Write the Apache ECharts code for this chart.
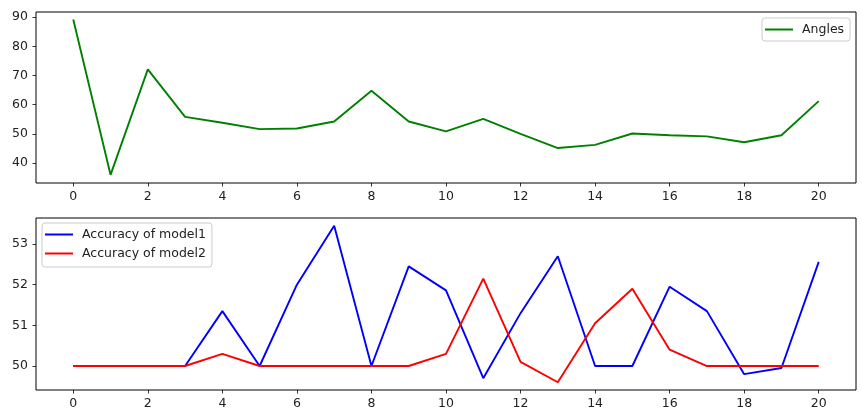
<!DOCTYPE html>
<html>
<head>
<meta charset="utf-8">
<title>Angles / Accuracy</title>
<script type="text/javascript" src="https://cdn.jsdelivr.net/npm/echarts@6/dist/echarts.min.js"></script>
<style type="text/css">
html, body {margin: 0; padding: 0; background: #fff;}
#main {width: 862px; height: 418px;}
</style>
</head>
<body>
<div id="main"></div>
<script type="text/javascript">
// data
var steps = [0, 1, 2, 3, 4, 5, 6, 7, 8, 9, 10, 11, 12, 13, 14, 15, 16, 17, 18, 19, 20];
var angles = [89.2, 35.9, 72.1, 55.8, 53.8, 51.6, 51.8, 54.2, 64.8, 54.2, 50.8, 55.1, 50.0, 45.1, 46.2, 50.1, 49.5, 49.1, 47.1, 49.5, 61.2];
var accModel1 = [50, 50, 50, 50, 51.35, 50, 52.0, 53.45, 50, 52.45, 51.86, 49.7, 51.3, 52.7, 50, 50, 51.95, 51.35, 49.8, 49.95, 52.56];
var accModel2 = [50, 50, 50, 50, 50.3, 50, 50, 50, 50, 50, 50.3, 52.15, 50.1, 49.6, 51.05, 51.9, 50.4, 50, 50, 50, 50];
var xTicks = [0, 2, 4, 6, 8, 10, 12, 14, 16, 18, 20];
var yTicksTop = [40, 50, 60, 70, 80, 90];
var yTicksBottom = [50, 51, 52, 53];

function pairs(ys) {
    return steps.map(function (x, i) { return [x, ys[i]]; });
}

var font = 'DejaVu Sans';
var tickStyle = {show: true, inside: false, length: 3.5, lineStyle: {color: '#000', width: 0.8}};
var labelStyle = {color: '#222', fontFamily: font, fontSize: 12.5};

function xAxisFor(gridIndex) {
    return {
        type: 'value', gridIndex: gridIndex, min: -1, max: 21,
        axisLine: {show: false, onZero: false},
        splitLine: {show: false},
        axisTick: Object.assign({customValues: xTicks}, tickStyle),
        axisLabel: Object.assign({customValues: xTicks, margin: 7}, labelStyle)
    };
}
function yAxisFor(gridIndex, min, max, ticks) {
    return {
        type: 'value', gridIndex: gridIndex, min: min, max: max,
        axisLine: {show: false, onZero: false},
        splitLine: {show: false},
        axisTick: Object.assign({customValues: ticks}, tickStyle),
        axisLabel: Object.assign({customValues: ticks, margin: 8}, labelStyle)
    };
}

var legendText = {color: '#222', fontFamily: font, fontSize: 12.5, lineHeight: 15, padding: [0, 0, 0, 4]};

var myChart = echarts.init(document.getElementById('main'));
var option = {
    animation: false,
    backgroundColor: '#fff',
    grid: [
        {left: 36, top: 12, width: 820, height: 171, show: true, borderColor: '#000', borderWidth: 1, backgroundColor: 'transparent'},
        {left: 36, top: 218, width: 820, height: 172, show: true, borderColor: '#000', borderWidth: 1, backgroundColor: 'transparent'}
    ],
    legend: [
        {
            data: ['Angles'], left: 762, top: 18, orient: 'vertical',
            icon: 'rect', itemWidth: 28, itemHeight: 2,
            padding: [4, 6, 4, 3],
            borderColor: '#ccc', borderWidth: 1, borderRadius: 3, backgroundColor: 'rgba(255,255,255,0.8)',
            textStyle: legendText
        },
        {
            data: ['Accuracy of model1', 'Accuracy of model2'], left: 42, top: 223, orient: 'vertical',
            icon: 'rect', itemWidth: 28, itemHeight: 2, itemGap: 4,
            padding: [4, 6, 6, 3],
            borderColor: '#ccc', borderWidth: 1, borderRadius: 3, backgroundColor: 'rgba(255,255,255,0.8)',
            textStyle: legendText
        }
    ],
    xAxis: [xAxisFor(0), xAxisFor(1)],
    yAxis: [
        yAxisFor(0, 33.1, 91.8, yTicksTop),
        yAxisFor(1, 49.41, 53.64, yTicksBottom)
    ],
    series: [
        {
            name: 'Angles', type: 'line', xAxisIndex: 0, yAxisIndex: 0,
            symbol: 'none', color: '#008000', lineStyle: {width: 1.9},
            data: pairs(angles)
        },
        {
            name: 'Accuracy of model1', type: 'line', xAxisIndex: 1, yAxisIndex: 1,
            symbol: 'none', color: '#0000ff', lineStyle: {width: 1.9},
            data: pairs(accModel1)
        },
        {
            name: 'Accuracy of model2', type: 'line', xAxisIndex: 1, yAxisIndex: 1,
            symbol: 'none', color: '#ff0000', lineStyle: {width: 1.9},
            data: pairs(accModel2)
        }
    ]
};
myChart.setOption(option);
</script>
</body>
</html>
